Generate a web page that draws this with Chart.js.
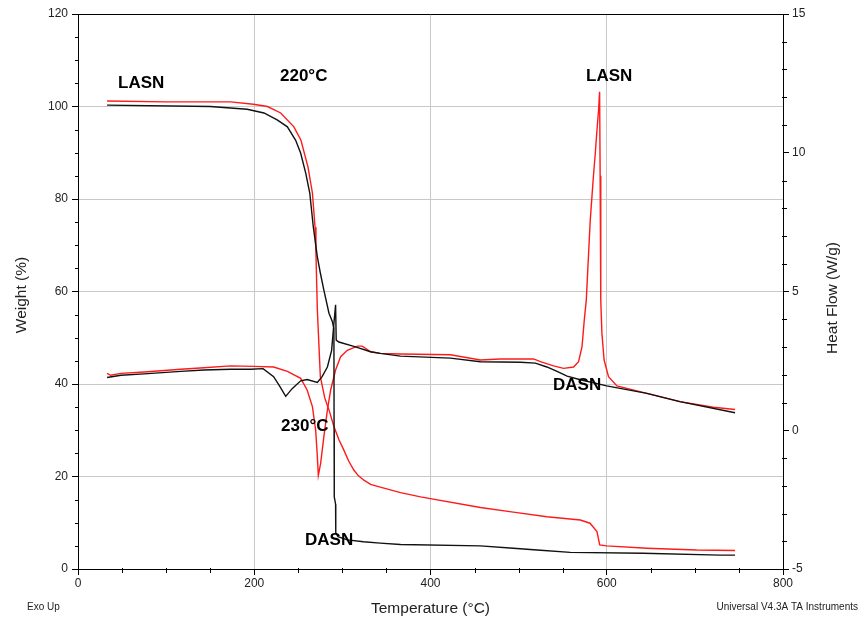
<!DOCTYPE html>
<html>
<head>
<meta charset="utf-8">
<script src="https://cdn.jsdelivr.net/npm/chart.js@4.4.1/dist/chart.umd.min.js"></script>
<style>
  html, body { margin: 0; padding: 0; background: #fff; }
  canvas { display: block; }
</style>
</head>
<body>
<canvas id="tgaChart" width="860" height="621"></canvas>
<script>
// tick labels
const tempTicks = [0, 200, 400, 600, 800];
const weightTicks = [0, 20, 40, 60, 80, 100, 120];
const heatTicks = [-5, 0, 5, 10, 15];

// LASN weight (%)
const lasnWeightTemp = [33, 100, 173, 199, 215, 230, 245, 253, 261, 266, 269, 270, 271.6, 275, 280, 284.8, 290.4, 296, 301.7, 307, 313, 318, 324.4, 332, 343, 366, 388.7, 456.6, 494, 532, 570, 581, 588.9, 592, 600, 645.5, 702, 745.6];
const lasnWeight = [101.2, 101, 101, 100.5, 100, 98.6, 95.6, 92.7, 86.9, 81.3, 73.9, 68.3, 56, 41.6, 37, 34.4, 30.8, 28, 25.7, 23.4, 21.4, 20.2, 19.2, 18.3, 17.7, 16.5, 15.6, 13.3, 12.3, 11.3, 10.6, 9.9, 8.1, 5.2, 5.0, 4.5, 4.1, 4.0];

// DASN weight (%)
const dasnWeightTemp = [33, 150, 192, 211, 226, 237.6, 247, 252.7, 258.4, 263, 267, 271.6, 275, 279, 284.8, 288.6, 290.4, 290.6, 290.8, 292.3, 292.5, 295, 305.6, 324, 343, 366, 456.6, 494, 521, 558.6, 641, 728.6, 745.6];
const dasnWeight = [100.3, 100, 99.4, 98.6, 97.1, 95.6, 92.7, 89.9, 85.6, 81.3, 74, 67.5, 64, 60.3, 55.3, 53.5, 52, 30, 15.6, 14, 7.8, 7, 6.3, 5.9, 5.6, 5.3, 5.0, 4.5, 4.1, 3.6, 3.4, 3.0, 3.0];

// LASN heat flow (W/g)
const lasnHeatTemp = [33, 37, 48.7, 75, 116.7, 142.8, 173, 200, 222, 237.6, 252.7, 260, 266, 269.7, 271.6, 272.7, 275.3, 279, 283, 286.7, 292.3, 298, 305.6, 317, 322.6, 332, 343, 366, 422.6, 456.6, 479, 517, 524.7, 539.7, 551, 562.4, 568, 571.9, 574.5, 576.8, 579.4, 581.3, 583.2, 585, 587, 588.9, 590.7, 591.9, 592.5, 593, 593.4, 594.5, 597, 602, 611.5, 645.5, 683, 721, 745.6];
const lasnHeat = [2.05, 1.98, 2.05, 2.10, 2.20, 2.25, 2.32, 2.30, 2.28, 2.12, 1.87, 1.45, 0.85, 0.00, -0.95, -1.62, -1.20, -0.23, 0.73, 1.45, 2.17, 2.65, 2.88, 3.03, 3.03, 2.83, 2.77, 2.75, 2.72, 2.53, 2.57, 2.57, 2.47, 2.32, 2.23, 2.28, 2.47, 3.00, 3.97, 4.70, 6.38, 7.58, 8.42, 9.20, 9.98, 10.82, 11.53, 12.20, 9.17, 5.83, 4.70, 3.50, 2.53, 1.93, 1.60, 1.33, 1.03, 0.83, 0.75];

// DASN heat flow (W/g)
const dasnHeatTemp = [33, 48.7, 75, 116.7, 142.8, 173, 196, 210, 222, 229, 235.7, 243, 252.7, 260, 271.6, 277, 283, 287.8, 290.4, 292.3, 293, 296, 313, 332, 343, 366, 422.6, 456.6, 502, 519, 532, 543.6, 555, 570, 600, 645.5, 683, 745.6];
const dasnHeat = [1.90, 1.98, 2.03, 2.12, 2.17, 2.20, 2.20, 2.22, 1.93, 1.58, 1.22, 1.50, 1.78, 1.83, 1.72, 1.93, 2.28, 2.88, 3.85, 4.52, 3.25, 3.18, 3.02, 2.83, 2.77, 2.67, 2.60, 2.47, 2.45, 2.42, 2.28, 2.12, 1.95, 1.82, 1.60, 1.33, 1.03, 0.63];

// text notes, placed in (temperature, weight) coordinates
const notes = [
  { text: 'LASN', t: 45.4, w: 105.1 },
  { text: '220°C', t: 229.2, w: 106.5 },
  { text: 'LASN', t: 576.5, w: 106.5 },
  { text: 'DASN', t: 539, w: 39.7 },
  { text: '230°C', t: 230.4, w: 30.8 },
  { text: 'DASN', t: 257.6, w: 6.2 }
];

const FONT = '"Liberation Sans", Arial, sans-serif';
const RED = '#ff1a1a';
const BLACK = '#111';
const GRID = '#c8c8c8';

function pairs(xs, ys) {
  return xs.map((x, i) => ({ x: x, y: ys[i] }));
}

// minor ticks + frame + texts
const decorPlugin = {
  id: 'decor',
  afterDraw(chart) {
    const ctx = chart.ctx;
    const area = chart.chartArea;
    const sx = chart.scales.x, sy = chart.scales.y, sy1 = chart.scales.y1;
    ctx.save();
    ctx.strokeStyle = '#000';
    ctx.lineWidth = 1;
    // top frame line
    ctx.beginPath();
    ctx.moveTo(area.left, area.top + 0.5);
    ctx.lineTo(area.right, area.top + 0.5);
    ctx.stroke();
    // minor ticks
    ctx.beginPath();
    sx.ticks.forEach(tk => {
      if (tempTicks.includes(tk.value)) return;
      const p = Math.round(sx.getPixelForValue(tk.value)) + 0.5;
      ctx.moveTo(p, area.bottom - 1);
      ctx.lineTo(p, area.bottom + 4);
    });
    sy.ticks.forEach(tk => {
      if (weightTicks.includes(tk.value)) return;
      const p = Math.round(sy.getPixelForValue(tk.value)) + 0.5;
      ctx.moveTo(area.left - 3, p);
      ctx.lineTo(area.left + 1, p);
    });
    sy1.ticks.forEach(tk => {
      if (heatTicks.includes(tk.value)) return;
      const p = Math.round(sy1.getPixelForValue(tk.value)) + 0.5;
      ctx.moveTo(area.right - 1, p);
      ctx.lineTo(area.right + 4, p);
    });
    ctx.stroke();

    // notes
    ctx.fillStyle = '#000';
    ctx.font = 'bold 17px ' + FONT;
    ctx.textAlign = 'left';
    ctx.textBaseline = 'middle';
    notes.forEach(n => {
      ctx.fillText(n.text, sx.getPixelForValue(n.t), sy.getPixelForValue(n.w));
    });

    // axis titles
    ctx.fillStyle = '#222';
    ctx.font = '15.5px ' + FONT;
    ctx.textAlign = 'center';
    ctx.fillText('Temperature (°C)', (area.left + area.right) / 2, 609);
    ctx.save();
    ctx.translate(22, 295);
    ctx.rotate(-Math.PI / 2);
    ctx.fillText('Weight (%)', 0, 0);
    ctx.restore();
    ctx.save();
    ctx.translate(833, 298);
    ctx.rotate(-Math.PI / 2);
    ctx.fillText('Heat Flow (W/g)', 0, 0);
    ctx.restore();

    // footer
    ctx.font = '10px ' + FONT;
    ctx.textAlign = 'left';
    ctx.fillText('Exo Up', 27, 607);
    ctx.textAlign = 'right';
    ctx.fillText('Universal V4.3A TA Instruments', 858, 607);
    ctx.restore();
  }
};

function majorColor(list, color) {
  return c => (c.tick && list.includes(c.tick.value)) ? color : 'rgba(0,0,0,0)';
}

new Chart(document.getElementById('tgaChart').getContext('2d'), {
  type: 'line',
  data: {
    datasets: [
      { label: 'DASN weight', data: pairs(dasnWeightTemp, dasnWeight), borderColor: BLACK, yAxisID: 'y' },
      { label: 'DASN heat flow', data: pairs(dasnHeatTemp, dasnHeat), borderColor: BLACK, yAxisID: 'y1' },
      { label: 'LASN weight', data: pairs(lasnWeightTemp, lasnWeight), borderColor: RED, yAxisID: 'y' },
      { label: 'LASN heat flow', data: pairs(lasnHeatTemp, lasnHeat), borderColor: RED, yAxisID: 'y1' }
    ]
  },
  options: {
    responsive: false,
    animation: false,
    devicePixelRatio: 1,
    layout: { padding: { top: 14, left: 0, right: 0, bottom: 0 } },
    elements: {
      point: { radius: 0 },
      line: { borderWidth: 1.4, tension: 0, fill: false }
    },
    plugins: {
      legend: { display: false },
      tooltip: { enabled: false }
    },
    scales: {
      x: {
        type: 'linear',
        min: 0, max: 800,
        afterFit: s => { s.height = 52; },
        ticks: {
          stepSize: 50, autoSkip: false, maxRotation: 0, padding: 1,
          color: '#222', font: { family: FONT, size: 12 },
          callback: v => tempTicks.includes(v) ? v : ''
        },
        grid: { color: majorColor(tempTicks, GRID), tickColor: majorColor(tempTicks, '#000'), tickLength: 6, lineWidth: 1 },
        border: { color: '#000', width: 1 }
      },
      y: {
        type: 'linear', position: 'left',
        min: 0, max: 120,
        afterFit: s => { s.width = 78; },
        ticks: {
          stepSize: 5, autoSkip: false, padding: 4,
          color: '#222', font: { family: FONT, size: 12 },
          callback: v => weightTicks.includes(v) ? v : ''
        },
        grid: { color: majorColor(weightTicks, GRID), tickColor: majorColor(weightTicks, '#000'), tickLength: 6, lineWidth: 1 },
        border: { color: '#000', width: 1 }
      },
      y1: {
        type: 'linear', position: 'right',
        min: -5, max: 15,
        afterFit: s => { s.width = 77; },
        ticks: {
          stepSize: 1, autoSkip: false, padding: 3,
          color: '#222', font: { family: FONT, size: 12 },
          callback: v => heatTicks.includes(v) ? v : ''
        },
        grid: { drawOnChartArea: false, tickColor: majorColor(heatTicks, '#000'), tickLength: 6 },
        border: { color: '#000', width: 1 }
      }
    }
  },
  plugins: [decorPlugin]
});
</script>
</body>
</html>
